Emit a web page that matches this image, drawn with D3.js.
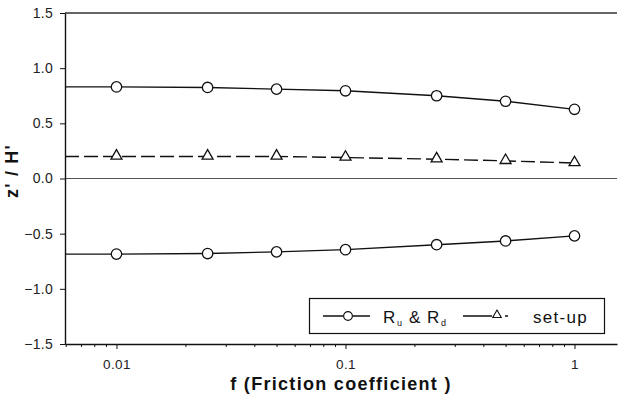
<!DOCTYPE html>
<html>
<head>
<meta charset="utf-8">
<script src="https://cdn.jsdelivr.net/npm/d3@7"></script>
<style>
  html, body { margin: 0; padding: 0; background: #fff; }
  svg { display: block; font-family: Arial, "Liberation Sans", sans-serif; }
</style>
</head>
<body>
<svg id="chart" width="618" height="399"></svg>
<script>
// Friction coefficients at which the model was run
const frictionValues = [0.01, 0.025, 0.05, 0.1, 0.25, 0.5, 1];
// Run-up (upper), run-down (lower) and set-up, normalised by H'
const runUp   = [0.83, 0.825, 0.81, 0.795, 0.75, 0.70, 0.627];
const runDown = [-0.685, -0.68, -0.665, -0.645, -0.60, -0.566, -0.52];
const setUp   = [0.20, 0.20, 0.20, 0.19, 0.175, 0.16, 0.14];

const xTickValues = [0.01, 0.1, 1];
const xTickLabels = ["0.01", "0.1", "1"];
const yTickValues = [-1.5, -1.0, -0.5, 0.0, 0.5, 1.0, 1.5];

const svg = d3.select("#chart");
const plotLeft = 65, plotRight = 617, plotTop = 13, plotBottom = 344;

const x = d3.scaleLog().domain([0.00596, 1.533]).range([plotLeft, plotRight]);
const y = d3.scaleLinear().domain([-1.5, 1.5]).range([plotBottom, plotTop]);

const ink = "#111";
const fontFam = "Arial, 'Liberation Sans', sans-serif";

// top frame line and zero reference line
svg.append("line").attr("x1", plotLeft).attr("x2", plotRight)
  .attr("y1", y(1.5)).attr("y2", y(1.5))
  .attr("stroke", "#333").attr("stroke-width", 1.4);
svg.append("line").attr("x1", plotLeft).attr("x2", plotRight)
  .attr("y1", y(0)).attr("y2", y(0))
  .attr("stroke", "#555").attr("stroke-width", 1.2);

// y axis
const yAxis = svg.append("g").attr("transform", `translate(${plotLeft},0)`)
  .call(d3.axisLeft(y).tickValues(yTickValues).tickFormat(d3.format(".1f"))
    .tickSize(5).tickPadding(7).tickSizeOuter(0));
yAxis.select(".domain").attr("stroke", ink).attr("stroke-width", 1.4);
yAxis.selectAll(".tick line").attr("stroke", ink);
yAxis.selectAll("text").attr("font-size", 14).attr("fill", "#222")
  .attr("letter-spacing", 0.3).attr("font-family", fontFam);

// x axis: major decades plus minor ticks
const minorTicks = [];
for (let e = -3; e <= 0; e++) {
  for (let m = 2; m <= 9; m++) {
    const v = m * Math.pow(10, e);
    if (v >= x.domain()[0] && v <= x.domain()[1]) minorTicks.push(v);
  }
}
const xMinor = svg.append("g").attr("transform", `translate(0,${plotBottom})`)
  .call(d3.axisBottom(x).tickValues(minorTicks).tickFormat("").tickSize(3).tickSizeOuter(0));
xMinor.select(".domain").remove();
xMinor.selectAll(".tick line").attr("stroke", ink);

const xAxis = svg.append("g").attr("transform", `translate(0,${plotBottom})`)
  .call(d3.axisBottom(x).tickValues(xTickValues)
    .tickFormat((d, i) => xTickLabels[i]).tickSize(5).tickPadding(10).tickSizeOuter(0));
xAxis.select(".domain").attr("stroke", ink).attr("stroke-width", 1.4);
xAxis.selectAll(".tick line").attr("stroke", ink);
xAxis.selectAll("text").attr("font-size", 13.5).attr("fill", "#222")
  .attr("letter-spacing", 0.4).attr("font-family", fontFam);

// axis titles
svg.append("text").attr("x", 341).attr("y", 390)
  .attr("text-anchor", "middle").attr("font-weight", "bold").attr("font-size", 18)
  .attr("letter-spacing", 1.3).attr("fill", ink).text("f (Friction coefficient )");
svg.append("text").attr("transform", "translate(18,171) rotate(-90)")
  .attr("text-anchor", "middle").attr("font-weight", "bold").attr("font-size", 18)
  .attr("letter-spacing", 1.2).attr("fill", ink).text("z' / H'");

// series: each line is carried flat back to the left axis from its first point
function seriesPoints(vals) {
  const pts = frictionValues.map((f, i) => [f, vals[i]]);
  return [[x.domain()[0], vals[0]]].concat(pts);
}
const line = d3.line().x(d => x(d[0])).y(d => y(d[1]));

[runUp, runDown].forEach(vals => {
  svg.append("path").datum(seriesPoints(vals)).attr("d", line)
    .attr("fill", "none").attr("stroke", ink).attr("stroke-width", 1.4);
});
svg.append("path").datum(seriesPoints(setUp)).attr("d", line)
  .attr("fill", "none").attr("stroke", ink).attr("stroke-width", 1.4)
  .attr("stroke-dasharray", "14,5");

const circleSym = d3.symbol().type(d3.symbolCircle).size(85);
const triSym = d3.symbol().type(d3.symbolTriangle).size(52);

[runUp, runDown].forEach(vals => {
  svg.append("g").selectAll("path").data(frictionValues.map((f, i) => [f, vals[i]]))
    .join("path").attr("d", circleSym)
    .attr("transform", d => `translate(${x(d[0])},${y(d[1])})`)
    .attr("fill", "#fff").attr("stroke", ink).attr("stroke-width", 1.3);
});
svg.append("g").selectAll("path").data(frictionValues.map((f, i) => [f, setUp[i]]))
  .join("path").attr("d", triSym)
  .attr("transform", d => `translate(${x(d[0])},${y(d[1]) - 0.5})`)
  .attr("fill", "#fff").attr("stroke", ink).attr("stroke-width", 1.3);

// legend
const lg = svg.append("g").attr("font-family", fontFam).attr("fill", ink);
lg.append("rect").attr("x", 309.5).attr("y", 298.5).attr("width", 295).attr("height", 35)
  .attr("fill", "#fff").attr("stroke", ink).attr("stroke-width", 1.2);
lg.append("line").attr("x1", 323).attr("x2", 370).attr("y1", 316).attr("y2", 316)
  .attr("stroke", ink).attr("stroke-width", 1.3);
lg.append("path").attr("d", d3.symbol().type(d3.symbolCircle).size(60))
  .attr("transform", "translate(348,316)").attr("fill", "#fff").attr("stroke", ink).attr("stroke-width", 1.1);
lg.append("text").attr("x", 383).attr("y", 323).attr("font-size", 17).text("R");
lg.append("text").attr("x", 397).attr("y", 326).attr("font-size", 9).text("u");
lg.append("text").attr("x", 409).attr("y", 323).attr("font-size", 17).text("&");
lg.append("text").attr("x", 427).attr("y", 323).attr("font-size", 17).text("R");
lg.append("text").attr("x", 441).attr("y", 326).attr("font-size", 9).text("d");
lg.append("line").attr("x1", 463).attr("x2", 512).attr("y1", 316).attr("y2", 316)
  .attr("stroke", ink).attr("stroke-width", 1.3).attr("stroke-dasharray", "29,13,3,4,4,50");
lg.append("path").attr("d", d3.symbol().type(d3.symbolTriangle).size(32))
  .attr("transform", "translate(497,315)").attr("fill", "#fff").attr("stroke", ink).attr("stroke-width", 1.1);
lg.append("text").attr("x", 533).attr("y", 323).attr("font-size", 17)
  .attr("letter-spacing", 1.3).text("set-up");
</script>
</body>
</html>
